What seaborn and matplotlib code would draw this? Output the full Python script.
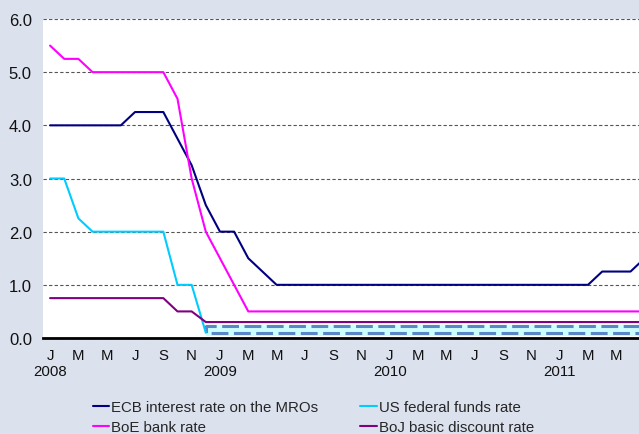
import numpy as np
import pandas as pd
import matplotlib
matplotlib.use("Agg")
import matplotlib.pyplot as plt
import seaborn as sns

# ------------------------------------------------------------
# Data: monthly policy rates, Jan 2008 (0) to Jul 2011 (42)
# ------------------------------------------------------------
months = list(range(43))

ecb = [4.00, 4.00, 4.00, 4.00, 4.00, 4.00, 4.25, 4.25, 4.25, 3.75, 3.25, 2.50,
       2.00, 2.00, 1.50, 1.25, 1.00, 1.00, 1.00, 1.00, 1.00, 1.00, 1.00, 1.00,
       1.00, 1.00, 1.00, 1.00, 1.00, 1.00, 1.00, 1.00, 1.00, 1.00, 1.00, 1.00,
       1.00, 1.00, 1.00, 1.25, 1.25, 1.25, 1.50]

boe = [5.50, 5.25, 5.25, 5.00, 5.00, 5.00, 5.00, 5.00, 5.00, 4.50, 3.00, 2.00,
       1.50, 1.00, 0.50, 0.50, 0.50, 0.50, 0.50, 0.50, 0.50, 0.50, 0.50, 0.50,
       0.50, 0.50, 0.50, 0.50, 0.50, 0.50, 0.50, 0.50, 0.50, 0.50, 0.50, 0.50,
       0.50, 0.50, 0.50, 0.50, 0.50, 0.50, 0.50]

us_months = months[:12]
us = [3.00, 3.00, 2.25, 2.00, 2.00, 2.00, 2.00, 2.00, 2.00, 1.00, 1.00, 0.10]

boj = [0.75, 0.75, 0.75, 0.75, 0.75, 0.75, 0.75, 0.75, 0.75, 0.50, 0.50, 0.30,
       0.30, 0.30, 0.30, 0.30, 0.30, 0.30, 0.30, 0.30, 0.30, 0.30, 0.30, 0.30,
       0.30, 0.30, 0.30, 0.30, 0.30, 0.30, 0.30, 0.30, 0.30, 0.30, 0.30, 0.30,
       0.30, 0.30, 0.30, 0.30, 0.30, 0.30, 0.30]

# US federal funds target range (0-0.25) from Dec 2008
band_start, band_end = 11, 42
band_fill = (0.03, 0.24)
band_lines = (0.22, 0.09)

year_labels = ["2008", "2009", "2010", "2011"]
month_letters = ["J", "F", "M", "A", "M", "J", "J", "A", "S", "O", "N", "D"]

# ------------------------------------------------------------
# Plot
# ------------------------------------------------------------
sns.set_theme(style="white")
plt.rcParams["font.family"] = ["Liberation Sans", "DejaVu Sans"]
plt.rcParams["font.size"] = 10.5

bg = "#dbe2ee"
fig = plt.figure(figsize=(6.39, 4.35), dpi=100, facecolor=bg)
ax = fig.add_axes([43 / 639, (435 - 339) / 435, (639 - 43) / 639, (339 - 20) / 435])
ax.set_facecolor("white")

# band for the US target range
ax.fill_between([band_start, band_end], band_fill[0], band_fill[1],
                color="#ccffff", lw=0, zorder=1)
ax.plot([band_end, band_start, band_start, band_end],
        [band_lines[0], band_lines[0], band_lines[1], band_lines[1]],
        color="#5b87c6", lw=2.2, dashes=(5.5, 1.8), zorder=2)

series = [
    (months, ecb, "ECB interest rate on the MROs", "#000080"),
    (months, boe, "BoE bank rate", "#ff00ff"),
    (us_months, us, "US federal funds rate", "#00ccff"),
    (months, boj, "BoJ basic discount rate", "#800080"),
]
for xs, ys, lab, col in series:
    sns.lineplot(x=xs, y=ys, ax=ax, color=col, lw=1.5, label=lab, zorder=3)

ax.set_xlim(-0.5, 41.6)
ax.set_ylim(0, 6)
ax.set_yticks(np.arange(0, 6.5, 1.0))
ax.set_yticklabels([f"{v:.1f}" for v in np.arange(0, 6.5, 1.0)])
ax.yaxis.grid(True, color="#555555", ls=(0, (3, 2)), lw=0.8)
ax.set_axisbelow(True)

ticks = months[:42:2]
labels = []
for t in ticks:
    lab = month_letters[t % 12]
    if t % 12 == 0:
        lab += "\n" + year_labels[t // 12]
    labels.append(lab)
ax.set_xticks(ticks)
ax.set_xticklabels(labels, linespacing=1.25)
ax.tick_params(axis="x", length=0, pad=7, labelsize=10.8, colors="#111111")
ax.tick_params(axis="y", length=0, pad=8, labelsize=12, colors="#111111")

for s in ["top", "right", "left"]:
    ax.spines[s].set_visible(False)
ax.spines["bottom"].set_color("black")
ax.spines["bottom"].set_linewidth(2)
ax.spines["bottom"].set_zorder(4)

handles, labs = ax.get_legend_handles_labels()
ax.get_legend().remove()
fig.legend(handles, labs, ncol=2, frameon=False, loc="upper left",
           bbox_to_anchor=(85 / 639, 1 - 394 / 435), borderpad=0,
           handlelength=1.1, handletextpad=0.15, columnspacing=2.8,
           labelspacing=0.35, fontsize=10.8)

plt.savefig("out.png", dpi=100, facecolor=bg)
